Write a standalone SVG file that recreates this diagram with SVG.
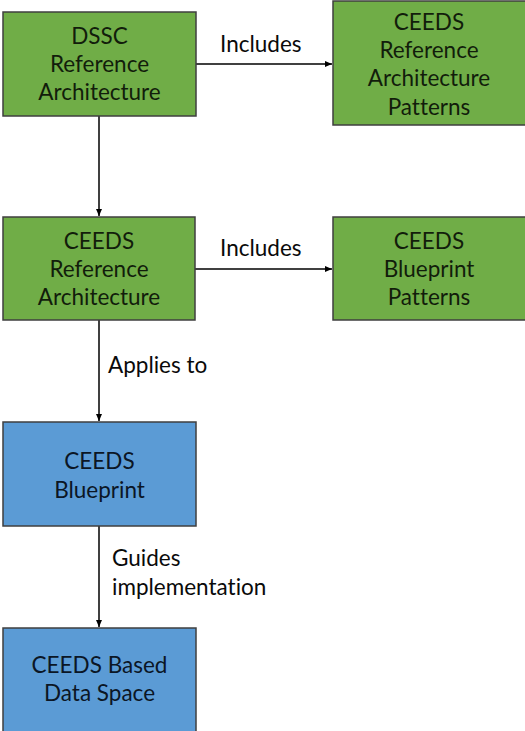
<svg xmlns="http://www.w3.org/2000/svg" width="525" height="731" viewBox="0 0 525 731">
<defs>
<marker id="ah" markerWidth="8" markerHeight="8" refX="7" refY="4" orient="auto" markerUnits="userSpaceOnUse">
<path d="M0,1 L7,4 L0,7 Z" fill="#000"/>
</marker>
<style>
.g{fill:#70AD47;stroke:#3F3F3F;stroke-width:1.5}
.b{fill:#5B9BD5;stroke:#3F3F3F;stroke-width:1.5}
.t{font-family:Lato,"Open Sans",sans-serif;font-size:22.5px;text-anchor:middle;font-variant-ligatures:none}
.tg{fill:#121D0B}
.tb{fill:#0B1625}
.l{font-family:Lato,"Open Sans",sans-serif;font-size:22.5px;fill:#0A0A0A;font-variant-ligatures:none}
.c{stroke:#000;stroke-width:1.5;fill:none;marker-end:url(#ah)}
</style>
</defs>
<rect width="525" height="731" fill="#fff"/>
<g id="connectors">
<line class="c" x1="196" y1="64" x2="332" y2="64"/>
<line class="c" x1="99" y1="116" x2="99" y2="216"/>
<line class="c" x1="195" y1="269" x2="332" y2="269"/>
<line class="c" x1="99" y1="320" x2="99" y2="421"/>
<line class="c" x1="99" y1="526" x2="99" y2="627"/>
<text class="l" x="220" y="52">Includes</text>
<text class="l" x="220" y="256">Includes</text>
<text class="l" x="108" y="373">Applies to</text>
<text class="l" x="112" y="566">Guides</text>
<text class="l" x="112" y="595">implementation</text>
</g>
<g id="dssc-ra">
<rect class="g" x="3" y="12" width="193" height="104"/>
<text class="t tg" x="99.5" y="44">DSSC</text>
<text class="t tg" x="99.5" y="72">Reference</text>
<text class="t tg" x="99.5" y="100">Architecture</text>
</g>
<g id="ceeds-rap">
<rect class="g" x="333" y="1" width="195" height="124"/>
<text class="t tg" x="429" y="30">CEEDS</text>
<text class="t tg" x="429" y="58">Reference</text>
<text class="t tg" x="429" y="86">Architecture</text>
<text class="t tg" x="429" y="115">Patterns</text>
</g>
<g id="ceeds-ra">
<rect class="g" x="3" y="217" width="192" height="103"/>
<text class="t tg" x="99" y="249">CEEDS</text>
<text class="t tg" x="99" y="277">Reference</text>
<text class="t tg" x="99" y="305">Architecture</text>
</g>
<g id="ceeds-bp">
<rect class="g" x="333" y="217" width="195" height="103"/>
<text class="t tg" x="429" y="249">CEEDS</text>
<text class="t tg" x="429" y="277">Blueprint</text>
<text class="t tg" x="429" y="305">Patterns</text>
</g>
<g id="ceeds-blueprint">
<rect class="b" x="3" y="422" width="193" height="104"/>
<text class="t tb" x="99.5" y="469">CEEDS</text>
<text class="t tb" x="99.5" y="498">Blueprint</text>
</g>
<g id="ceeds-ds">
<rect class="b" x="3" y="628" width="193" height="106"/>
<text class="t tb" x="99.5" y="673">CEEDS Based</text>
<text class="t tb" x="99.5" y="701">Data Space</text>
</g>
</svg>
